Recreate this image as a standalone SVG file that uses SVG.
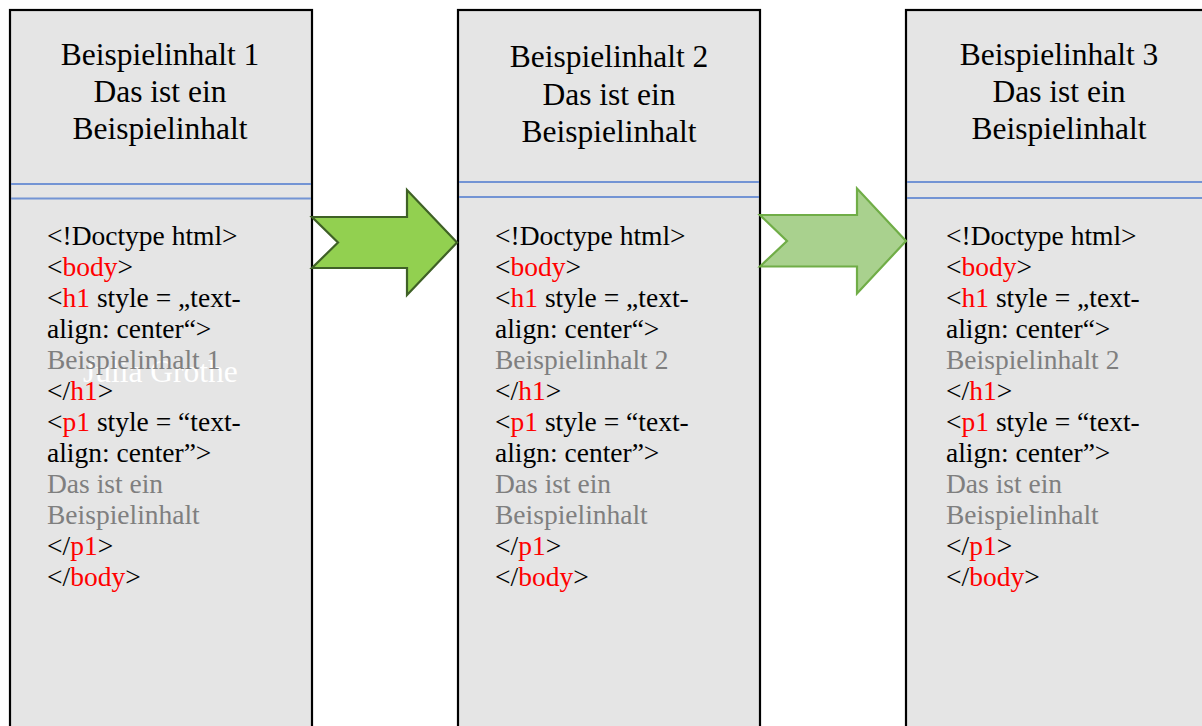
<svg xmlns="http://www.w3.org/2000/svg" width="1202" height="726" viewBox="0 0 1202 726">
<style>
.box{fill:#e5e5e5;stroke:#000;stroke-width:2.2}
.sep{stroke:#7394d4;stroke-width:1.8}
.head{font-family:"Liberation Serif",serif;font-size:31.5px;fill:#000;text-anchor:middle}
.code{font-family:"Liberation Serif",serif;font-size:27.5px;fill:#000}
.r{fill:#ff0000}
.g{fill:#7f7f7f}
.wm{font-family:"Liberation Serif",serif;font-size:31.5px;fill:#ffffff}
</style>
<rect width="1202" height="726" fill="#fff"/>
<g id="node1">
<rect class="box" x="10" y="10" width="302" height="740"/>
<line class="sep" x1="11" y1="184" x2="311" y2="184"/>
<line class="sep" x1="11" y1="198.5" x2="311" y2="198.5"/>
<text class="head" x="160" y="65">Beispielinhalt 1</text>
<text class="head" x="160" y="102">Das ist ein</text>
<text class="head" x="160" y="139">Beispielinhalt</text>
<text class="wm" x="83" y="382">Julia Grothe</text>
<text class="code" x="47" y="245">&lt;!Doctype html&gt;</text>
<text class="code" x="47" y="276">&lt;<tspan class="r">body</tspan>&gt;</text>
<text class="code" x="47" y="307">&lt;<tspan class="r">h1</tspan> style = „text-</text>
<text class="code" x="47" y="338">align: center“&gt;</text>
<text class="code g" x="47" y="369">Beispielinhalt 1</text>
<text class="code" x="47" y="400">&lt;/<tspan class="r">h1</tspan>&gt;</text>
<text class="code" x="47" y="431">&lt;<tspan class="r">p1</tspan> style = “text-</text>
<text class="code" x="47" y="462">align: center”&gt;</text>
<text class="code g" x="47" y="493">Das ist ein</text>
<text class="code g" x="47" y="524">Beispielinhalt</text>
<text class="code" x="47" y="555">&lt;/<tspan class="r">p1</tspan>&gt;</text>
<text class="code" x="47" y="586">&lt;/<tspan class="r">body</tspan>&gt;</text>
</g>
<g id="node2">
<rect class="box" x="458" y="10" width="302" height="740"/>
<line class="sep" x1="459" y1="182" x2="759" y2="182"/>
<line class="sep" x1="459" y1="197" x2="759" y2="197"/>
<text class="head" x="609" y="67">Beispielinhalt 2</text>
<text class="head" x="609" y="105">Das ist ein</text>
<text class="head" x="609" y="142">Beispielinhalt</text>
<text class="code" x="495" y="245">&lt;!Doctype html&gt;</text>
<text class="code" x="495" y="276">&lt;<tspan class="r">body</tspan>&gt;</text>
<text class="code" x="495" y="307">&lt;<tspan class="r">h1</tspan> style = „text-</text>
<text class="code" x="495" y="338">align: center“&gt;</text>
<text class="code g" x="495" y="369">Beispielinhalt 2</text>
<text class="code" x="495" y="400">&lt;/<tspan class="r">h1</tspan>&gt;</text>
<text class="code" x="495" y="431">&lt;<tspan class="r">p1</tspan> style = “text-</text>
<text class="code" x="495" y="462">align: center”&gt;</text>
<text class="code g" x="495" y="493">Das ist ein</text>
<text class="code g" x="495" y="524">Beispielinhalt</text>
<text class="code" x="495" y="555">&lt;/<tspan class="r">p1</tspan>&gt;</text>
<text class="code" x="495" y="586">&lt;/<tspan class="r">body</tspan>&gt;</text>
</g>
<g id="node3">
<rect class="box" x="906" y="10" width="320" height="740"/>
<line class="sep" x1="907" y1="182" x2="1202" y2="182"/>
<line class="sep" x1="907" y1="198" x2="1202" y2="198"/>
<text class="head" x="1059" y="65">Beispielinhalt 3</text>
<text class="head" x="1059" y="102">Das ist ein</text>
<text class="head" x="1059" y="139">Beispielinhalt</text>
<text class="code" x="946" y="245">&lt;!Doctype html&gt;</text>
<text class="code" x="946" y="276">&lt;<tspan class="r">body</tspan>&gt;</text>
<text class="code" x="946" y="307">&lt;<tspan class="r">h1</tspan> style = „text-</text>
<text class="code" x="946" y="338">align: center“&gt;</text>
<text class="code g" x="946" y="369">Beispielinhalt 2</text>
<text class="code" x="946" y="400">&lt;/<tspan class="r">h1</tspan>&gt;</text>
<text class="code" x="946" y="431">&lt;<tspan class="r">p1</tspan> style = “text-</text>
<text class="code" x="946" y="462">align: center”&gt;</text>
<text class="code g" x="946" y="493">Das ist ein</text>
<text class="code g" x="946" y="524">Beispielinhalt</text>
<text class="code" x="946" y="555">&lt;/<tspan class="r">p1</tspan>&gt;</text>
<text class="code" x="946" y="586">&lt;/<tspan class="r">body</tspan>&gt;</text>
</g>
<g id="connectors">
<polygon points="312,217 407,217 407,190 457,242.5 407,295 407,268 312,268 338,242.5" fill="#92d050" stroke="#3f6126" stroke-width="2.2" stroke-linejoin="miter"/>
<polygon points="760,215 857,215 857,188.5 906,241 857,293.5 857,266.5 760,266.5 787,241" fill="#a9d18e" stroke="#70ad47" stroke-width="2.2" stroke-linejoin="miter"/>
</g>
</svg>
